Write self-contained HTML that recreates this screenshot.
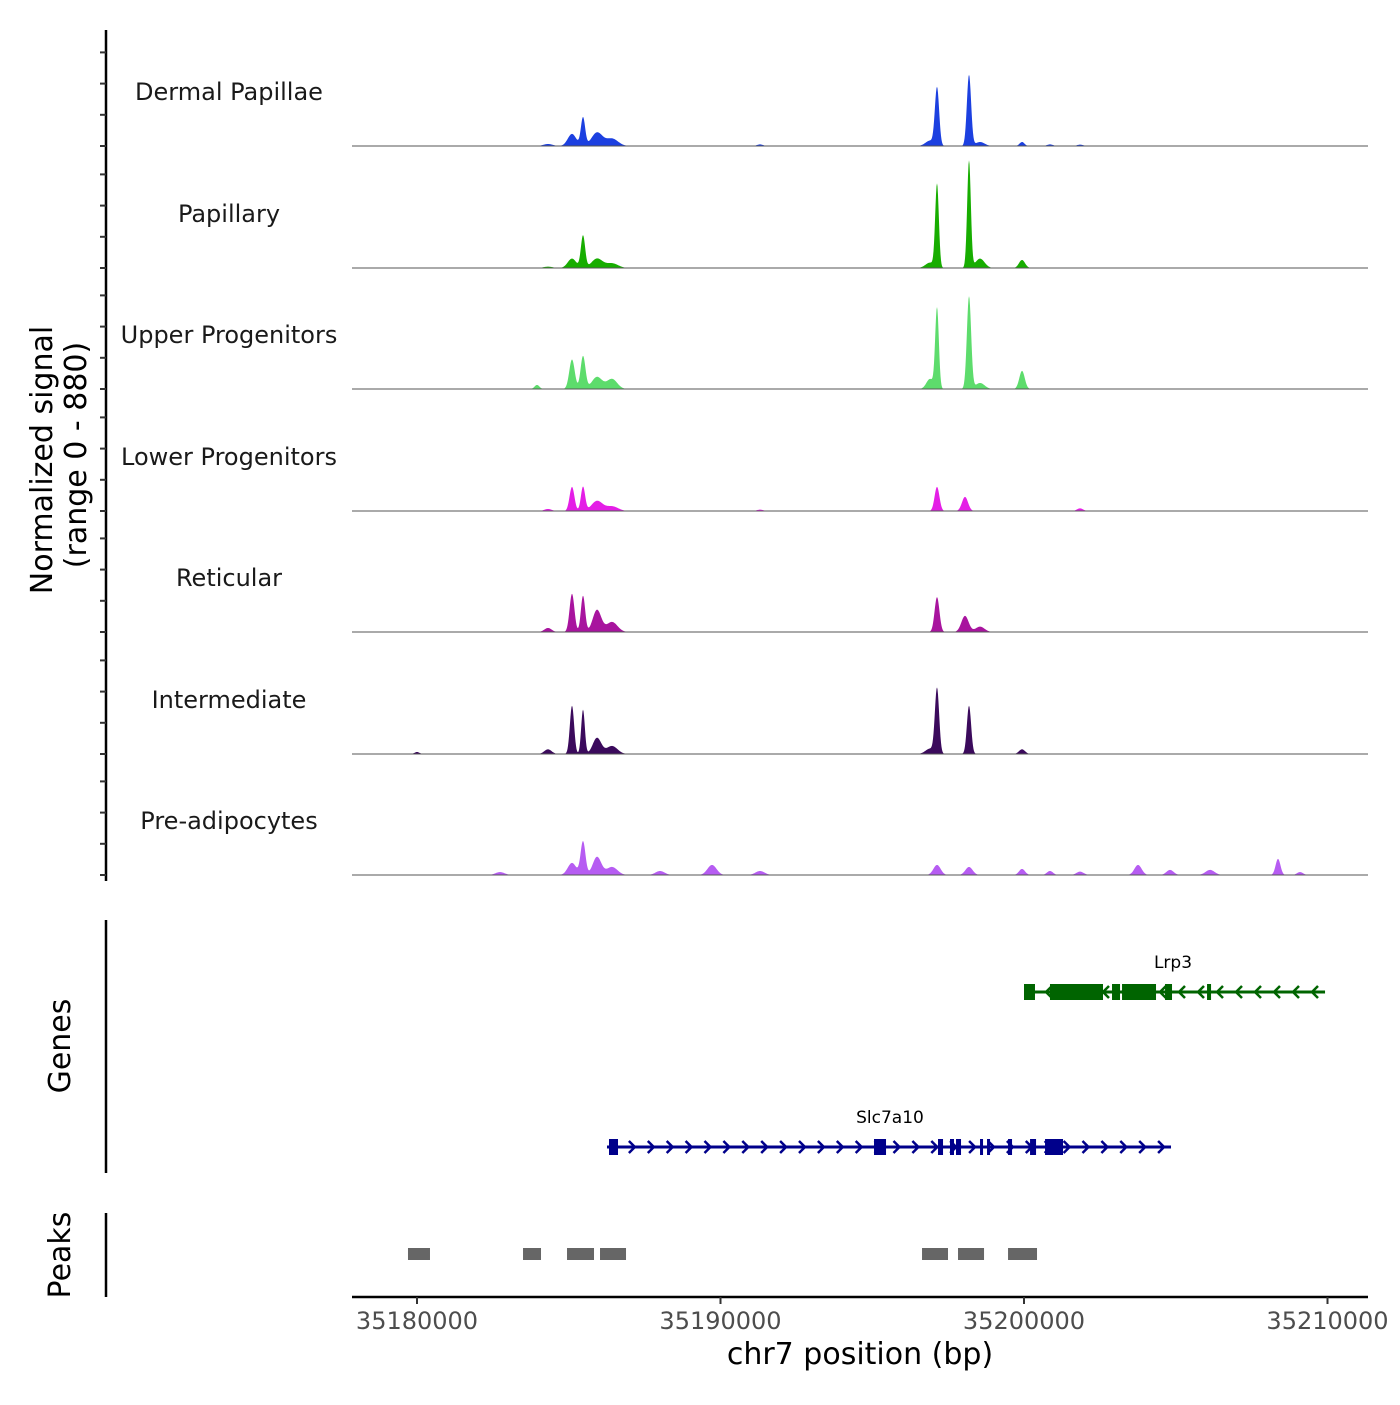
<!DOCTYPE html>
<html><head><meta charset="utf-8">
<style>
html,body{margin:0;padding:0;background:#fff}
svg text{font-family:"DejaVu Sans","Liberation Sans",sans-serif}
</style></head>
<body>
<svg id="chart" width="1400" height="1400" viewBox="0 0 1400 1400" xmlns="http://www.w3.org/2000/svg">
<g id="tracks"></g>
<g id="genes"></g>
<g id="peaks"></g>
<g id="axes"></g>
</svg>
<script>
const trackNames = ["Dermal Papillae","Papillary","Upper Progenitors","Lower Progenitors","Reticular","Intermediate","Pre-adipocytes"];
const trackColors = ["#1c40e0","#17ad00","#5ddc6c","#e41ee6","#a8149e","#3b0a5c","#b65cf2"];
// peaks per track: [center bp, height (signal units 0-880), sigma bp]
const sigDermal = [[35185470,210,70],[35185107,90,140],[35185931,100,180],[35186425,55,200],[35197134,430,70],[35198188,530,70],[35199935,30,80],[35196903,40,150],[35198551,30,150],[35184316,15,150],[35191302,12,100],[35200856,12,100],[35201846,10,100]];
const sigPapillary = [[35185470,240,70],[35185107,70,140],[35185931,70,180],[35186425,35,200],[35197134,620,60],[35198188,800,60],[35199935,60,100],[35198551,70,150],[35196903,40,150],[35184316,10,150]];
const sigUpper = [[35185107,220,90],[35185470,245,80],[35185931,90,170],[35186425,75,170],[35183954,30,80],[35197134,600,60],[35198188,690,70],[35199935,135,90],[35196903,75,120],[35198551,45,150]];
const sigLower = [[35185107,180,80],[35185470,180,70],[35185931,75,180],[35186425,35,200],[35197134,180,80],[35198056,105,100],[35184316,15,120],[35201846,20,100],[35191302,10,100]];
const sigReticular = [[35185107,285,80],[35185470,270,70],[35185931,165,140],[35186425,75,180],[35184316,30,120],[35197134,260,80],[35198056,120,120],[35198551,40,150]];
const sigIntermediate = [[35185107,360,70],[35185470,330,60],[35185931,120,140],[35186425,60,180],[35184316,35,120],[35197134,485,70],[35198188,360,70],[35199935,35,100],[35180000,15,80],[35196903,40,150]];
const sigPreadipo = [[35185470,250,80],[35185107,90,140],[35185931,135,140],[35186425,60,180],[35189720,75,150],[35197134,75,120],[35198188,60,120],[35203757,75,120],[35208370,120,80],[35199935,45,100],[35182735,22,150],[35188007,30,150],[35191302,30,150],[35204812,38,120],[35206130,38,150],[35209095,22,100],[35200856,30,100],[35201846,25,120]];
const signals = [sigDermal,sigPapillary,sigUpper,sigLower,sigReticular,sigIntermediate,sigPreadipo];
const peakRegions = [[35179703,35180428],[35183493,35184086],[35184943,35185832],[35186030,35186887],[35196640,35197496],[35197826,35198683],[35199474,35200429]];
const lrp3Range = [35200000,35209919];
const lrp3Exons = [[35200000,35200362],[35200856,35202603],[35202900,35203164],[35203230,35204350],[35204647,35204877],[35206031,35206163]];
const slcRange = [35186260,35204844];
const slcExons = [[35186326,35186623],[35195058,35195454],[35197167,35197332],[35197562,35197694],[35197760,35197925],[35198551,35198650],[35198782,35198881],[35199474,35199606],[35200199,35200397],[35200693,35201286]];
const xTicks = [35180000,35190000,35200000,35210000];

const NS="http://www.w3.org/2000/svg";
function mk(tag,attrs,parent){const e=document.createElementNS(NS,tag);for(const k in attrs)e.setAttribute(k,attrs[k]);parent.appendChild(e);return e;}
const X0=352,X1=1368;
function xs(bp){return 417+(bp-35180000)*30.35/1000;}
function bpAt(x){return 35180000+(x-417)*1000/30.35;}
const baselines=[146,268,389,511,632,754,875];
const ymax=880, trackPx=118;

const tg=document.getElementById('tracks');
signals.forEach((sig,i)=>{
  const b=baselines[i];
  const g=mk('g',{},tg);
  
  
  let d='M'+X0+','+b;
  for(let x=X0;x<=X1;x+=0.5){
    const bp=bpAt(x);let v=0;
    sig.forEach(p=>{const z=(bp-p[0])/p[2];v+=p[1]*Math.exp(-0.5*z*z);});
    v=Math.min(v,ymax);
    d+=' L'+x+','+(b-v/ymax*trackPx).toFixed(2);
  }
  d+=' L'+X1+','+b+' Z';
  const a=mk('path',{d:d,fill:trackColors[i],stroke:'none'},g);
  
  
  const l=mk('line',{x1:X0,x2:X1,y1:b,y2:b,stroke:'#555','stroke-width':1},g);
  
  
  const t=mk('text',{x:229,y:b-46,'text-anchor':'middle','font-size':24,fill:'#1a1a1a'},g);
  t.textContent=trackNames[i];
  
  
});

const ax=document.getElementById('axes');
mk('line',{x1:106,x2:106,y1:30,y2:881,stroke:'#000','stroke-width':2.5},ax);
baselines.forEach(b=>{for(let k=0;k<4;k++){mk('line',{x1:100,x2:106,y1:b-k*31.2,y2:b-k*31.2,stroke:'#333','stroke-width':2},ax);}});
let yt=mk('text',{transform:'translate(52,460) rotate(-90)','text-anchor':'middle','font-size':30,fill:'#000'},ax);
yt.textContent='Normalized signal';


let yt2=mk('text',{transform:'translate(86,455) rotate(-90)','text-anchor':'middle','font-size':30,fill:'#000'},ax);
yt2.textContent='(range 0 - 880)';


mk('line',{x1:106,x2:106,y1:920,y2:1173,stroke:'#000','stroke-width':2.5},ax);
let gt=mk('text',{transform:'translate(70,1046) rotate(-90)','text-anchor':'middle','font-size':30,fill:'#000'},ax);
gt.textContent='Genes';


mk('line',{x1:106,x2:106,y1:1213,y2:1297,stroke:'#000','stroke-width':2.5},ax);
let pt=mk('text',{transform:'translate(70,1255) rotate(-90)','text-anchor':'middle','font-size':30,fill:'#000'},ax);
pt.textContent='Peaks';


mk('line',{x1:X0,x2:X1,y1:1297,y2:1297,stroke:'#000','stroke-width':2.5},ax);
xTicks.forEach(t=>{
  const x=xs(t);
  mk('line',{x1:x,x2:x,y1:1297,y2:1304,stroke:'#333','stroke-width':2},ax);
  const tx=mk('text',{x:x,y:1329,'text-anchor':'middle','font-size':24,fill:'#4d4d4d'},ax);
  tx.textContent=String(t);
  
  
});
let xt=mk('text',{x:860,y:1364,'text-anchor':'middle','font-size':30,fill:'#000'},ax);
xt.textContent='chr7 position (bp)';



const gg=document.getElementById('genes');
function gene(name,range,exons,y,color,dir,labelX){
  const g=mk('g',{},gg);
  
  
  mk('line',{x1:xs(range[0]),x2:xs(range[1]),y1:y,y2:y,stroke:color,'stroke-width':3},g);
  const step=dir>0?18.9:19;
  for(let x=xs(range[0])+6;x<xs(range[1]);x+=step){
    const p=dir>0?`M${x-3},${y-6} L${x+3},${y} L${x-3},${y+6}`:`M${x+3},${y-6} L${x-3},${y} L${x+3},${y+6}`;
    mk('path',{d:p,stroke:color,'stroke-width':2.5,fill:'none'},g);
  }
  exons.forEach(e=>{
    const r=mk('rect',{x:xs(e[0]),y:y-8,width:Math.max(3,xs(e[1])-xs(e[0])),height:16,fill:color},g);
    
    
  });
  const t=mk('text',{x:labelX,y:y-24,'text-anchor':'middle','font-size':17,fill:'#000'},g);
  t.textContent=name;
  
  
}
gene('Lrp3',lrp3Range,lrp3Exons,992,'#006400',-1,1173);
gene('Slc7a10',slcRange,slcExons,1147,'#00008b',1,890);

const pg=document.getElementById('peaks');
peakRegions.forEach(p=>{
  const r=mk('rect',{x:xs(p[0]),y:1248,width:xs(p[1])-xs(p[0]),height:12,fill:'#666'},pg);
  
  
});
</script>
</body></html>
